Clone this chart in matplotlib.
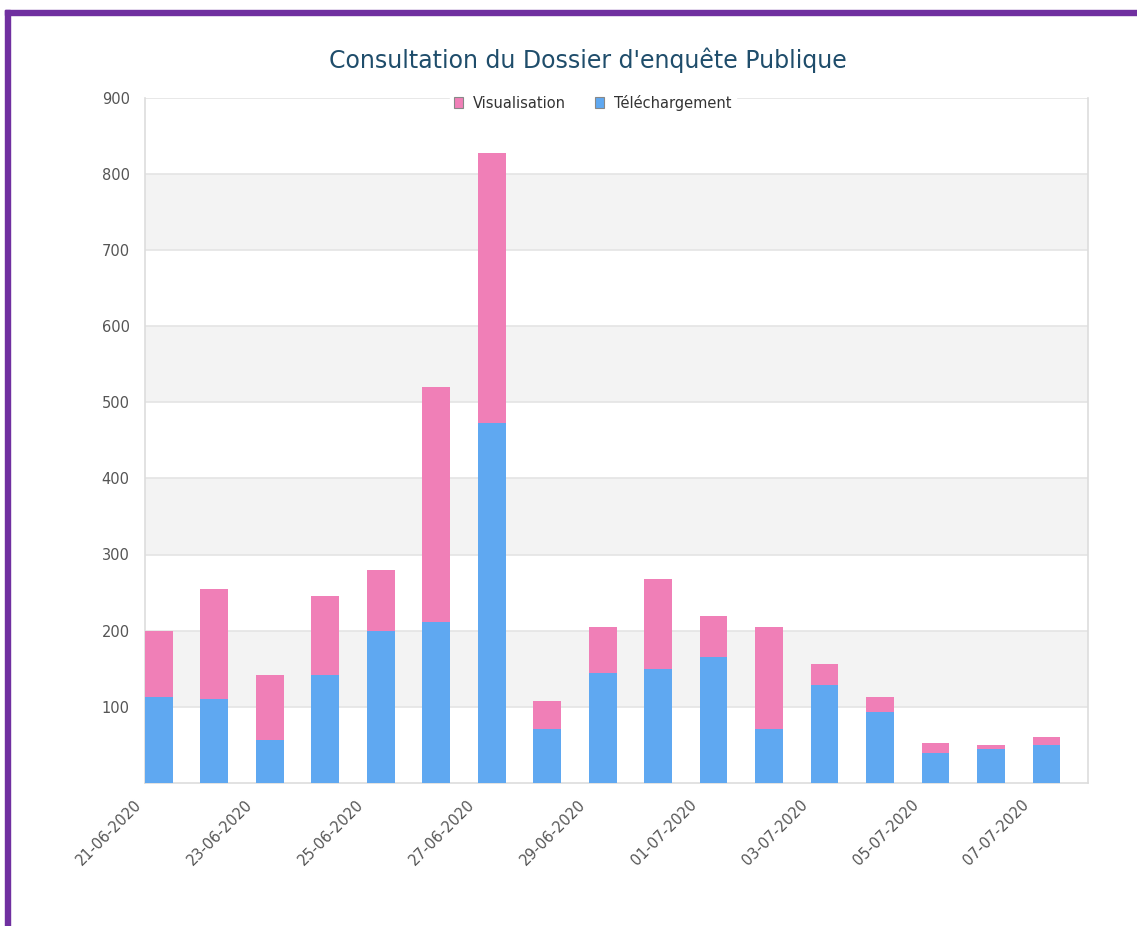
import matplotlib.pyplot as plt
from matplotlib.patches import Rectangle
from matplotlib.transforms import ScaledTranslation

dates = ["21-06-2020", "22-06-2020", "23-06-2020", "24-06-2020", "25-06-2020",
         "26-06-2020", "27-06-2020", "28-06-2020", "29-06-2020", "30-06-2020",
         "01-07-2020", "02-07-2020", "03-07-2020", "04-07-2020", "05-07-2020",
         "06-07-2020", "07-07-2020"]
telechargement = [113, 110, 56, 142, 200, 212, 472, 71, 144, 150, 166, 71, 129, 93, 39, 45, 50]
visualisation = [87, 145, 86, 104, 80, 308, 355, 37, 61, 118, 53, 134, 27, 20, 13, 5, 11]

pink = "#f07fb7"
blue = "#5fa8f1"

fig = plt.figure(figsize=(11.37, 9.26), dpi=100)
ax = fig.add_axes([145 / 1137, 1 - 783 / 926, 943 / 1137, 685.5 / 926])

x = list(range(len(dates)))
ax.bar(x, telechargement, width=0.5, align="edge", color=blue, zorder=3)
ax.bar(x, visualisation, width=0.5, align="edge", bottom=telechargement,
       color=pink, zorder=3)

ax.set_xlim(0, len(dates))
ax.set_ylim(0, 900)

# alternating grey bands
for lo in range(100, 900, 200):
    ax.axhspan(lo, lo + 100, color="#f3f3f3", zorder=0, lw=0)
ax.set_yticks(range(100, 1000, 100))
ax.yaxis.grid(True, color="#e4e4e4", lw=1.2, zorder=1)
ax.tick_params(axis="y", length=0, pad=11, labelsize=10.5, labelcolor="#555555")

ax.set_xticks(x[::2])
ax.set_xticklabels(dates[::2], rotation=45, ha="right", rotation_mode="anchor",
                   fontsize=10.5, color="#555555")
ax.tick_params(axis="x", length=0, pad=8)
shift = ScaledTranslation(-11 / 100, -3 / 100, fig.dpi_scale_trans)
for lab in ax.get_xticklabels():
    lab.set_transform(lab.get_transform() + shift)

for s in ax.spines.values():
    s.set_color("#dddddd")
    s.set_linewidth(1.2)
ax.spines["top"].set_visible(False)

leg = ax.legend(handles=[Rectangle((0, 0), 1, 1, fc=pink, ec="#888888", lw=0.8),
                         Rectangle((0, 0), 1, 1, fc=blue, ec="#888888", lw=0.8)],
                labels=["Visualisation", "Téléchargement"], ncol=2,
                loc="center", bbox_to_anchor=(0.475, 0.992), frameon=True,
                fontsize=10.5, handlelength=0.6, handleheight=0.8,
                handletextpad=0.7, columnspacing=2.0, borderpad=0.3)
leg.get_frame().set_facecolor("white")
leg.get_frame().set_edgecolor("white")
leg.get_frame().set_alpha(1)
for t in leg.get_texts():
    t.set_color("#333333")

fig.text(588 / 1137, 1 - 60 / 926, "Consultation du Dossier d'enquête Publique",
         ha="center", va="center", fontsize=17, color="#1f4d6b")

# purple page border (top and left)
fig.patches.append(Rectangle((5 / 1137, 0), 5 / 1137, 1 - 10 / 926,
                             transform=fig.transFigure, color="#7030a0"))
fig.patches.append(Rectangle((5 / 1137, 1 - 15 / 926), 1, 5 / 926,
                             transform=fig.transFigure, color="#7030a0"))

fig.savefig("out.png", dpi=100)
